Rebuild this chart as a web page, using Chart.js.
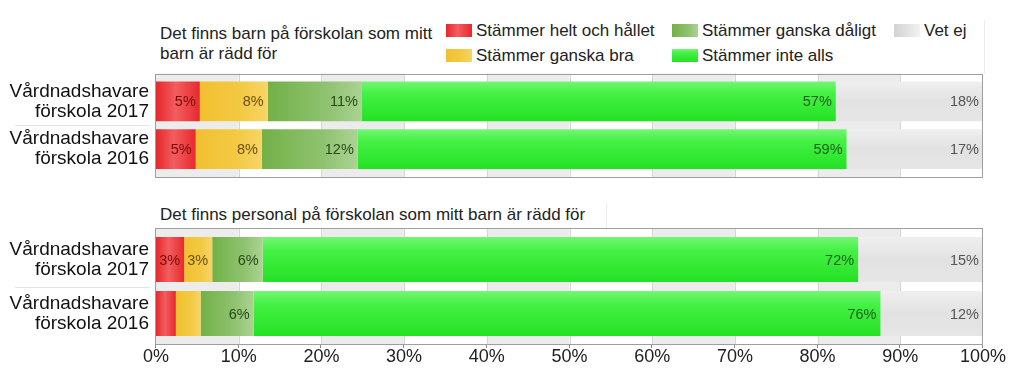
<!DOCTYPE html>
<html lang="sv">
<head>
<meta charset="utf-8">
<title>Rädd för</title>
<script src="https://cdn.jsdelivr.net/npm/chart.js@4"></script>
<style>
  body { margin: 0; background: #fff; font-family: "Liberation Sans", Arial, sans-serif; }
  #wrap { position: relative; width: 1024px; height: 384px; overflow: hidden; }
  canvas { position: absolute; left: 0; }
  .title { position: absolute; left: 160px; font-size: 17px; line-height: 20px; color: #222; }
  .item { position: absolute; font-size: 17px; line-height: 20px; color: #222; white-space: nowrap; }
  .sw { position: absolute; width: 26px; height: 13px; }
  .box { position: absolute; border-right: 1px solid #ececec; }
</style>
</head>
<body>
<div id="wrap">
  <div class="box" style="left:155px;top:20px;width:829px;height:53px"></div>
  <div class="box" style="left:155px;top:203px;width:451px;height:25px"></div>
  <div class="title" style="top:24px">Det finns barn på förskolan som mitt<br>barn är rädd för</div>
  <div class="title" style="top:205px">Det finns personal på förskolan som mitt barn är rädd för</div>
  <div id="legend"></div>
  <canvas id="barn" width="1024" height="200" style="top:0"></canvas>
  <canvas id="personal" width="1024" height="184" style="top:200px"></canvas>
</div>
<script>
// data
const categories = [['Vårdnadshavare', 'förskola 2017'], ['Vårdnadshavare', 'förskola 2016']];
const seriesNames = ['Stämmer helt och hållet', 'Stämmer ganska bra', 'Stämmer ganska dåligt', 'Stämmer inte alls', 'Vet ej'];
const xTickValues = [0, 10, 20, 30, 40, 50, 60, 70, 80, 90, 100];

// Det finns barn ... (2017, 2016)
const barnHelt = [5.3, 4.8];
const barnBra = [8.2, 8.0];
const barnDaligt = [11.4, 11.6];
const barnInte = [57.3, 59.1];
const barnVetEj = [17.8, 16.5];

// Det finns personal ... (2017, 2016)
const personalHelt = [3.4, 2.4];
const personalBra = [3.4, 3.0];
const personalDaligt = [6.1, 6.4];
const personalInte = [72.0, 75.8];
const personalVetEj = [15.1, 12.4];

// styles
const fills = [
  { dir: 'h', stops: [[0, '#e6272b'], [0.45, '#f15e60'], [1, '#e8292d']], flat: '#e8262b', text: '#7d0a0a' },
  { dir: 'h', stops: [[0, '#f1c030'], [0.6, '#f3c943'], [1, '#f7d466']], flat: '#f2c232', text: '#6a5008' },
  { dir: 'h', stops: [[0, '#72b047'], [0.65, '#90c371'], [1, '#abd394']], flat: '#80b85a', text: '#274a18' },
  { dir: 'v', stops: [[0, '#74f674'], [0.3, '#44f144'], [1, '#24e124']], flat: '#3ef03e', text: '#1b601b' },
  { dir: 'v', stops: [[0, '#efefef'], [0.5, '#e2e2e2'], [1, '#e6e6e6']], flat: '#e2e2e2', text: '#555555' }
];
const legendSpots = [[446, 0], [446, 1], [672, 0], [672, 1], [894, 0]];

Chart.defaults.font.family = '"Liberation Sans", Arial, sans-serif';

// legend (html)
const legendEl = document.getElementById('legend');
seriesNames.forEach((name, i) => {
  const [left, row] = legendSpots[i];
  const f = fills[i];
  const sw = document.createElement('div');
  sw.className = 'sw';
  sw.style.left = left + 'px';
  sw.style.top = (24 + row * 25) + 'px';
  const deg = f.dir === 'h' ? '90deg' : '180deg';
  sw.style.background = 'linear-gradient(' + deg + ',' + f.stops.map(s => s[1] + ' ' + (s[0] * 100) + '%').join(',') + ')';
  if (i === 4) sw.style.background = 'linear-gradient(90deg,#d2d2d2,#f2f2f2)';
  const tx = document.createElement('div');
  tx.className = 'item';
  tx.style.left = (left + 30) + 'px';
  tx.style.top = (21 + row * 25) + 'px';
  tx.textContent = name;
  legendEl.appendChild(sw);
  legendEl.appendChild(tx);
});

function gapOf(chart) {
  const y = chart.scales.y;
  const el = chart.getDatasetMeta(0).data[0];
  const catH = Math.abs(y.getPixelForValue(1) - y.getPixelForValue(0));
  return (catH - el.height) / 2;
}

const panelDeco = {
  id: 'panelDeco',
  beforeDatasetsDraw(chart) {
    const { ctx, chartArea: a, scales: { x, y } } = chart;
    const ext = gapOf(chart);
    const top = a.top - ext, bot = a.bottom + ext;
    ctx.save();
    // grey bands every other step
    ctx.fillStyle = '#ececec';
    for (let i = 0; i < xTickValues.length - 1; i += 2) {
      const x0 = x.getPixelForValue(xTickValues[i]);
      const x1 = x.getPixelForValue(xTickValues[i + 1]);
      ctx.fillRect(x0, top, x1 - x0, bot - top);
    }
    ctx.strokeStyle = '#d6d6d6';
    ctx.lineWidth = 1;
    xTickValues.slice(1, -1).forEach(v => {
      const px = Math.round(x.getPixelForValue(v)) + 0.5;
      ctx.beginPath();
      ctx.moveTo(px, top);
      ctx.lineTo(px, bot);
      ctx.stroke();
    });
    // separator between category labels
    const mid = Math.round((y.getPixelForValue(0) + y.getPixelForValue(1)) / 2) + 0.5;
    ctx.strokeStyle = '#e4e4e4';
    ctx.beginPath();
    ctx.moveTo(15, mid);
    ctx.lineTo(150, mid);
    ctx.stroke();
    ctx.restore();

    // gradient fills per bar
    chart.data.datasets.forEach((ds, i) => {
      const f = fills[i];
      chart.getDatasetMeta(i).data.forEach(el => {
        const g = f.dir === 'h'
          ? ctx.createLinearGradient(el.base, 0, el.x, 0)
          : ctx.createLinearGradient(0, el.y - el.height / 2, 0, el.y + el.height / 2);
        f.stops.forEach(s => g.addColorStop(s[0], s[1]));
        el.options = Object.assign({}, el.options, { backgroundColor: g });
      });
    });
  },
  afterDatasetsDraw(chart, args, opts) {
    const { ctx, chartArea: a, scales: { x } } = chart;
    const ext = gapOf(chart);
    const top = a.top - ext, bot = a.bottom + ext;
    ctx.save();
    ctx.strokeStyle = '#9e9e9e';
    ctx.lineWidth = 1;
    ctx.strokeRect(Math.round(a.left) - 0.5, Math.round(top) + 0.5, Math.round(a.right - a.left), Math.round(bot - top) - 1);
    if (opts.tickMarks) {
      ctx.strokeStyle = '#888';
      xTickValues.forEach(v => {
        const px = Math.round(x.getPixelForValue(v)) - 0.5;
        ctx.beginPath();
        ctx.moveTo(px, Math.round(bot));
        ctx.lineTo(px, Math.round(bot) + 3);
        ctx.stroke();
      });
    }
    // value labels, right aligned inside each segment
    ctx.font = '14.5px "Liberation Sans", Arial, sans-serif';
    ctx.textAlign = 'right';
    ctx.textBaseline = 'middle';
    chart.data.datasets.forEach((ds, i) => {
      chart.getDatasetMeta(i).data.forEach((el, j) => {
        const txt = Math.round(ds.data[j]) + '%';
        const w = ctx.measureText(txt).width;
        if (w + 6 > el.width) return;
        ctx.fillStyle = fills[i].text;
        ctx.fillText(txt, el.x - 4, el.y + 1);
      });
    });
    ctx.restore();
  }
};

function makeChart(id, series, withAxis) {
  const datasets = series.map((vals, i) => ({
    label: seriesNames[i],
    data: vals,
    backgroundColor: fills[i].flat,
    borderWidth: 0,
    barPercentage: 45 / 54,
    categoryPercentage: 1
  }));
  return new Chart(document.getElementById(id), {
    type: 'bar',
    data: { labels: categories, datasets: datasets },
    plugins: [panelDeco],
    options: {
      indexAxis: 'y',
      responsive: false,
      animation: false,
      layout: { padding: { top: withAxis ? 32.5 : 77.5, right: 41, bottom: withAxis ? 0 : 14.5, left: 0 } },
      plugins: {
        legend: { display: false },
        tooltip: { enabled: false },
        panelDeco: { tickMarks: withAxis }
      },
      scales: {
        x: {
          stacked: true,
          min: 0,
          max: 100,
          display: withAxis,
          grid: { display: false, drawTicks: false },
          border: { display: false },
          afterBuildTicks: s => { s.ticks = xTickValues.map(v => ({ value: v })); },
          ticks: {
            padding: 6,
            maxRotation: 0,
            autoSkip: false,
            color: '#222',
            font: { size: 18 },
            callback: v => v + '%'
          },
          afterFit: s => { if (withAxis) s.height = 43.5; }
        },
        y: {
          stacked: true,
          grid: { display: false, drawTicks: false },
          border: { display: false },
          ticks: { padding: 7, color: '#111', font: { size: 19, lineHeight: 1.05 } },
          afterFit: s => { s.width = 156; }
        }
      }
    }
  });
}

makeChart('barn', [barnHelt, barnBra, barnDaligt, barnInte, barnVetEj], false);
makeChart('personal', [personalHelt, personalBra, personalDaligt, personalInte, personalVetEj], true);
</script>
</body>
</html>
